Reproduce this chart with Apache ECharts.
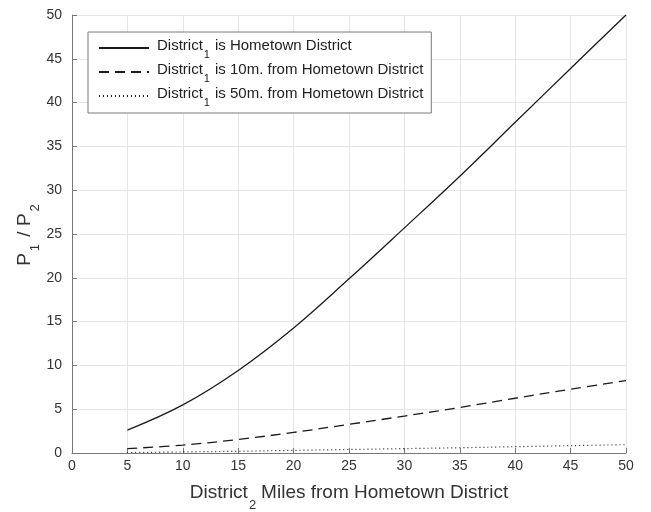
<!DOCTYPE html>
<html>
<head>
<meta charset="utf-8">
<script src="https://cdn.jsdelivr.net/npm/echarts@6/dist/echarts.min.js"></script>
<style>html,body{margin:0;padding:0;background:#fff;}#c{width:651px;height:512px;}</style>
</head>
<body>
<div id="c"></div>
<script>
// distances of District 2 (miles)
var miles = [5, 10, 15, 20, 25, 30, 35, 40, 45, 50];
// P1/P2 values
var hometown = [2.62, 5.49, 9.42, 14.27, 19.88, 25.7, 31.6, 37.75, 43.9, 50.0];
var tenMiles = [0.5, 0.9, 1.55, 2.35, 3.27, 4.22, 5.2, 6.25, 7.28, 8.27];
var fiftyMiles = [0.05, 0.12, 0.2, 0.3, 0.4, 0.5, 0.6, 0.72, 0.84, 0.95];
var xTicks = [0, 5, 10, 15, 20, 25, 30, 35, 40, 45, 50];
var yTicks = [0, 5, 10, 15, 20, 25, 30, 35, 40, 45, 50];
var seriesNames = ['s1', 's2', 's3'];
var legendLabels = {
  s1: '{f|District}{s|1}{t|is Hometown District}',
  s2: '{f|District}{s|1}{t|is 10m. from Hometown District}',
  s3: '{f|District}{s|1}{t|is 50m. from Hometown District}'
};

function pairs(xs, ys) { return xs.map(function (x, i) { return [x, ys[i]]; }); }

var font = 'Liberation Sans, Arial, Helvetica, sans-serif';
var axisCol = '#777777';
var textCol = '#333333';
var lineCol = '#1a1a1a';

var chart = echarts.init(document.getElementById('c'));
chart.setOption({
  animation: false,
  backgroundColor: '#ffffff',
  grid: { left: 72, right: 25, top: 15, bottom: 59, containLabel: false, outerBoundsMode: 'none' },
  legend: {
    data: seriesNames,
    orient: 'vertical',
    left: 88, top: 32,
    padding: [4, 8, 5, 10],
    itemGap: 0,
    itemWidth: 50,
    itemHeight: 14,
    backgroundColor: '#ffffff',
    borderColor: '#7a7a7a',
    borderWidth: 1,
    itemStyle: { color: 'rgba(0,0,0,0)', borderColor: 'rgba(0,0,0,0)', borderWidth: 0, opacity: 0 },
    formatter: function (n) { return legendLabels[n]; },
    textStyle: {
      color: '#222',
      fontFamily: font,
      rich: {
        f: { fontSize: 15, fontFamily: font, color: '#222', lineHeight: 18, verticalAlign: 'top', padding: [2, 0, 0, 3] },
        t: { fontSize: 15, fontFamily: font, color: '#222', lineHeight: 18, verticalAlign: 'top', padding: [2, 0, 0, 5] },
        s: { fontSize: 11, fontFamily: font, color: '#222', lineHeight: 24, verticalAlign: 'bottom', padding: [0, 0, 0, 1] }
      }
    }
  },
  xAxis: {
    type: 'value', min: xTicks[0], max: xTicks[xTicks.length - 1], interval: 5,
    name: '{t|District}{s|2}{u|Miles from Hometown District}',
    nameLocation: 'middle', nameGap: 30, nameMoveOverlap: false,
    nameTextStyle: {
      color: textCol, fontFamily: font,
      rich: {
        t: { fontSize: 19, fontFamily: font, color: textCol, lineHeight: 22, verticalAlign: 'top' },
        u: { fontSize: 19, fontFamily: font, color: textCol, lineHeight: 22, verticalAlign: 'top', padding: [0, 0, 0, 5] },
        s: { fontSize: 13, fontFamily: font, color: textCol, lineHeight: 29, verticalAlign: 'bottom', padding: [0, 0, 0, 1] }
      }
    },
    axisLine: { show: true, onZero: false, lineStyle: { color: axisCol, width: 1 } },
    axisTick: { show: true, inside: true, length: 5, lineStyle: { color: axisCol } },
    axisLabel: { color: textCol, fontSize: 14, fontFamily: font, margin: 6 },
    splitLine: { show: true, lineStyle: { color: '#e6e6e6', width: 1 } }
  },
  yAxis: {
    type: 'value', min: yTicks[0], max: yTicks[yTicks.length - 1], interval: 5,
    name: '{t|P}{s|1}{t| / P}{s|2}',
    nameLocation: 'middle', nameGap: 30, nameRotate: 90, nameMoveOverlap: false,
    nameTextStyle: {
      color: textCol, fontFamily: font,
      rich: {
        t: { fontSize: 19, fontFamily: font, color: textCol, lineHeight: 22, verticalAlign: 'top' },
        s: { fontSize: 13, fontFamily: font, color: textCol, lineHeight: 27, verticalAlign: 'bottom', padding: [0, 2, 0, 2] }
      }
    },
    axisLine: { show: true, onZero: false, lineStyle: { color: axisCol, width: 1 } },
    axisTick: { show: true, inside: true, length: 5, lineStyle: { color: axisCol } },
    axisLabel: { color: textCol, fontSize: 14, fontFamily: font, margin: 10 },
    splitLine: { show: true, lineStyle: { color: '#e6e6e6', width: 1 } }
  },
  series: [
    { name: 's1', type: 'line', data: pairs(miles, hometown), smooth: 0.4, symbol: 'none',
      lineStyle: { color: lineCol, width: 1.3, type: 'solid' }, itemStyle: { color: lineCol } },
    { name: 's2', type: 'line', data: pairs(miles, tenMiles), smooth: 0.4, symbol: 'none',
      lineStyle: { color: lineCol, width: 1.3, type: [10, 6] }, itemStyle: { color: lineCol } },
    { name: 's3', type: 'line', data: pairs(miles, fiftyMiles), smooth: 0.4, symbol: 'none',
      lineStyle: { color: lineCol, width: 1.2, type: [1, 3] }, itemStyle: { color: lineCol } }
  ]
});
</script>
</body>
</html>
